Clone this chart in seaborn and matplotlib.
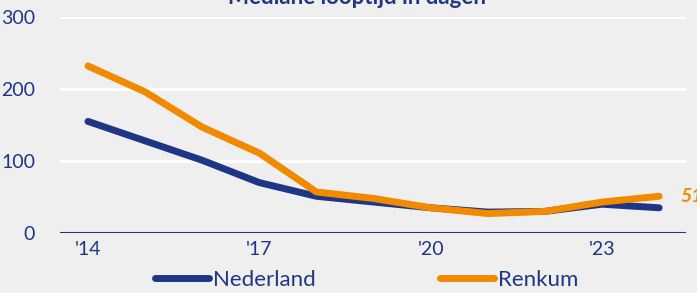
import matplotlib
matplotlib.use("Agg")
import matplotlib.pyplot as plt
import seaborn as sns
import pandas as pd

# Mediane looptijd in dagen
years = [2014, 2015, 2016, 2017, 2018, 2019, 2020, 2021, 2022, 2023, 2024]
nederland = [155, 128, 101, 70, 51, 43, 35, 29, 30, 40, 35]
renkum = [232, 196, 147, 111, 57, 48, 35, 27, 30, 43, 51]
tick_years = [2014, 2017, 2020, 2023]
tick_labels = ["'14", "'17", "'20", "'23"]

navy = "#1f3686"
orange = "#f28a00"
bg = "#efefef"

df = pd.DataFrame({"Jaar": years * 2,
                   "Dagen": nederland + renkum,
                   "Gebied": ["Nederland"] * len(years) + ["Renkum"] * len(years)})

sns.set_style("white")
plt.rcParams["font.family"] = ["Lato", "DejaVu Sans"]

fig = plt.figure(figsize=(6.97, 2.93), dpi=100, facecolor=bg)
ax = fig.add_axes([60 / 697, 1 - 233 / 293, 626 / 697, 216 / 293], facecolor=bg)

sns.lineplot(data=df, x="Jaar", y="Dagen", hue="Gebied",
             palette={"Nederland": navy, "Renkum": orange},
             linewidth=5, ax=ax, solid_capstyle="round", solid_joinstyle="round",
             zorder=3, legend=False)

ax.set_xlim(2013.51, 2024.47)
ax.set_ylim(0, 300)
ax.set_yticks([0, 100, 200, 300])
ax.set_xticks(tick_years)
ax.set_xticklabels(tick_labels)
ax.grid(axis="y", color="white", linewidth=2)
ax.axhline(0, color=navy, linewidth=1.5, zorder=2)
for s in ax.spines.values():
    s.set_visible(False)
ax.tick_params(axis="both", length=0, labelsize=14, labelcolor=navy)
ax.tick_params(axis="y", pad=18)
ax.tick_params(axis="x", pad=6)
ax.set_xlabel("")
ax.set_ylabel("")

ax.text(years[-1] + 0.38, renkum[-1], str(renkum[-1]), color=orange,
        fontsize=14, fontweight="bold", fontstyle="italic", va="center", ha="left",
        clip_on=False)

fig.text(357 / 697, 1 - 4 / 293, "Mediane looptijd in dagen", color=navy,
         fontsize=16, fontweight="bold", ha="center", va="baseline")

handles = ax.get_lines()[:2]
leg = fig.legend(handles, ["Nederland", "Renkum"], loc="center",
                 bbox_to_anchor=(367 / 697, 1 - 280 / 293), ncol=2,
                 frameon=False, fontsize=16, handlelength=2.4, columnspacing=5.6,
                 handletextpad=0.2)
for t in leg.get_texts():
    t.set_color(navy)
for h in leg.get_lines():
    h.set_linewidth(5)
    h.set_solid_capstyle("round")

fig.savefig("out.png", dpi=100, facecolor=bg)
